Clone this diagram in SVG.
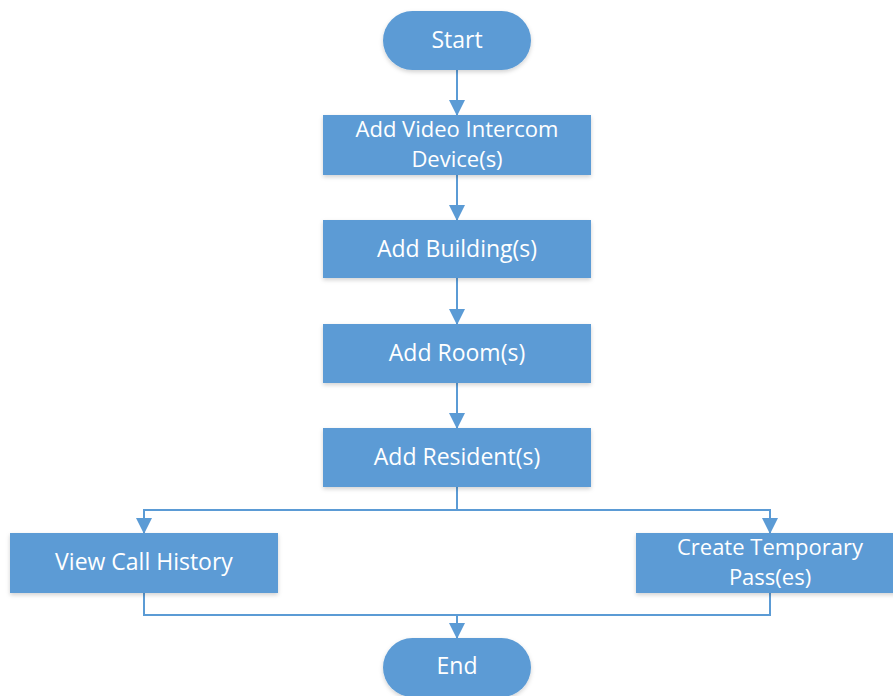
<svg xmlns="http://www.w3.org/2000/svg" width="893" height="696" viewBox="0 0 893 696">
  <defs>
    <marker id="arrow" viewBox="0 0 16 16" refX="15" refY="8" markerWidth="16" markerHeight="16" markerUnits="userSpaceOnUse" orient="auto">
      <path d="M0,0 L16,8 L0,16 Z" fill="#5B9BD5"/>
    </marker>
    <filter id="shadow" x="-10%" y="-10%" width="120%" height="130%">
      <feDropShadow dx="0" dy="2" stdDeviation="2" flood-color="#000" flood-opacity="0.18"/>
    </filter>
  </defs>
  <style>
    .shape { fill: #5B9BD5; filter: url(#shadow); }
    .label { fill: #FFFFFF; font-family: "Open Sans", "Noto Sans", "Liberation Sans", sans-serif; font-size: 23px; text-anchor: middle; }
    .two { font-size: 22px; }
    .link { fill: none; stroke: #5B9BD5; stroke-width: 2; }
  </style>
  <rect width="893" height="696" fill="#FFFFFF"/>

  <g id="connectors">
    <path class="link" d="M457,70 V115" marker-end="url(#arrow)"/>
    <path class="link" d="M457,175 V220" marker-end="url(#arrow)"/>
    <path class="link" d="M457,278 V324" marker-end="url(#arrow)"/>
    <path class="link" d="M457,383 V428" marker-end="url(#arrow)"/>
    <path class="link" d="M457,487 V510 H144 V533" marker-end="url(#arrow)"/>
    <path class="link" d="M457,510 H770 V533" marker-end="url(#arrow)"/>
    <path class="link" d="M144,593 V615 H770 V593"/>
    <path class="link" d="M457,615 V638" marker-end="url(#arrow)"/>
  </g>

  <g id="start">
    <rect class="shape" x="383" y="11" width="148" height="59" rx="29.5"/>
    <text class="label" x="457" y="48">Start</text>
  </g>
  <g id="add-device">
    <rect class="shape" x="323" y="115" width="268" height="60"/>
    <text class="label two" x="457" y="137">Add Video Intercom</text>
    <text class="label two" x="457" y="167">Device(s)</text>
  </g>
  <g id="add-building">
    <rect class="shape" x="323" y="220" width="268" height="58"/>
    <text class="label" x="457" y="257">Add Building(s)</text>
  </g>
  <g id="add-room">
    <rect class="shape" x="323" y="324" width="268" height="59"/>
    <text class="label" x="457" y="361">Add Room(s)</text>
  </g>
  <g id="add-resident">
    <rect class="shape" x="323" y="428" width="268" height="59"/>
    <text class="label" x="457" y="465">Add Resident(s)</text>
  </g>
  <g id="view-call-history">
    <rect class="shape" x="10" y="533" width="268" height="60"/>
    <text class="label" x="144" y="570">View Call History</text>
  </g>
  <g id="create-pass">
    <rect class="shape" x="636" y="533" width="268" height="60"/>
    <text class="label two" x="770" y="555">Create Temporary</text>
    <text class="label two" x="770" y="585">Pass(es)</text>
  </g>
  <g id="end">
    <rect class="shape" x="383" y="638" width="148" height="59" rx="29.5"/>
    <text class="label" x="457" y="674">End</text>
  </g>
</svg>
